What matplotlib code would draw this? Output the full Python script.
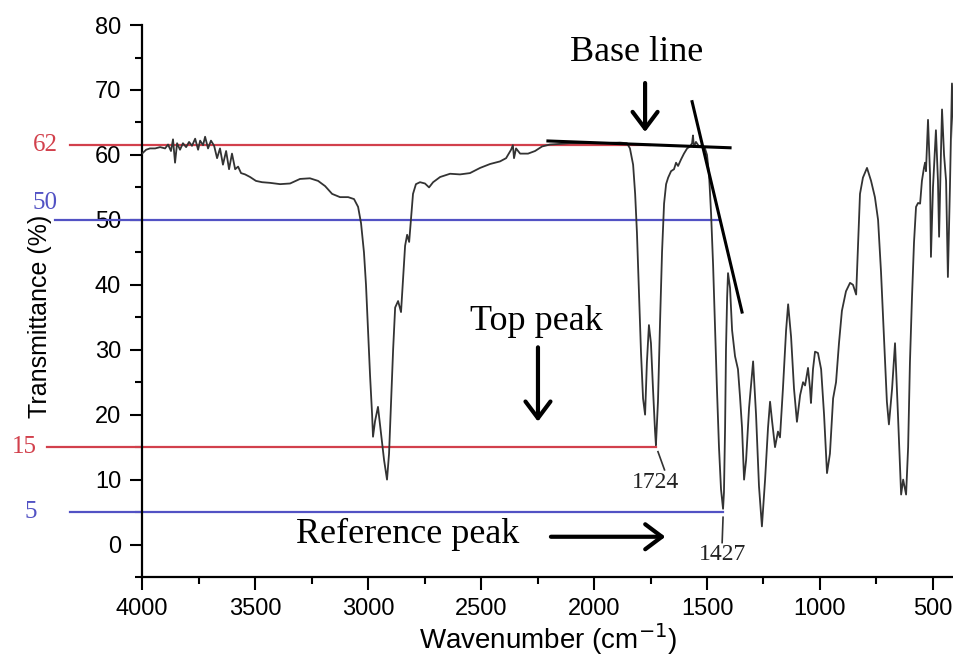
import numpy as np
import matplotlib
matplotlib.use("Agg")
import matplotlib.pyplot as plt
from matplotlib.ticker import MultipleLocator

# spectrum (wavenumber cm-1, transmittance %)
wavenumber = [
    4000, 3982, 3965, 3942, 3920, 3898, 3885, 3872, 3863, 3854, 3845, 3832, 3819, 3805,
    3792, 3779, 3765, 3752, 3743, 3730, 3721, 3708, 3695, 3681, 3668, 3655, 3642, 3628,
    3615, 3602, 3588, 3575, 3562, 3544, 3522, 3496, 3469, 3434, 3389, 3345, 3301, 3257,
    3221, 3190, 3159, 3124, 3088, 3062, 3044, 3031, 3018, 3009, 3000, 2991, 2982, 2978,
    2969, 2956, 2942, 2929, 2916, 2907, 2898, 2889, 2880, 2867, 2854, 2845, 2836, 2827,
    2818, 2810, 2801, 2788, 2770, 2748, 2730, 2712, 2681, 2637, 2593, 2549, 2504, 2460,
    2416, 2389, 2367, 2359, 2354, 2345, 2327, 2292, 2261, 2230, 2195, 2106, 1973, 1885,
    1854, 1841, 1827, 1818, 1810, 1801, 1792, 1783, 1774, 1766, 1757, 1748, 1739, 1730,
    1726, 1717, 1708, 1699, 1690, 1681, 1672, 1659, 1646, 1637, 1628, 1615, 1602, 1588,
    1575, 1566, 1562, 1558, 1549, 1535, 1522, 1509, 1500, 1491, 1482, 1473, 1465, 1456,
    1447, 1438, 1429, 1425, 1420, 1416, 1411, 1407, 1398, 1389, 1376, 1363, 1354, 1345,
    1336, 1327, 1314, 1296, 1283, 1270, 1257, 1243, 1230, 1221, 1212, 1199, 1186, 1177,
    1164, 1150, 1141, 1128, 1115, 1102, 1088, 1075, 1066, 1053, 1044, 1040, 1031, 1022,
    1009, 995, 982, 969, 956, 942, 929, 916, 903, 885, 867, 854, 840, 832,
    823, 810, 792, 774, 757, 743, 730, 717, 704, 695, 681, 668, 655, 641,
    632, 619, 610, 602, 593, 584, 575, 566, 557, 549, 540, 535, 531, 522,
    513, 509, 500, 487, 478, 473, 465, 460, 451, 442, 434, 425, 416, 407]
transmittance = [
    60.2, 60.8, 61.0, 61.0, 61.2, 61.0, 61.6, 60.6, 62.4, 58.8, 61.8, 60.8, 61.8, 61.2,
    62.0, 61.4, 62.5, 60.8, 62.2, 61.5, 62.8, 61.0, 62.2, 61.4, 59.5, 61.0, 58.5, 60.6,
    57.8, 60.2, 57.8, 58.2, 57.2, 57.0, 56.6, 56.0, 55.8, 55.7, 55.5, 55.6, 56.3, 56.4,
    56.0, 55.2, 54.0, 53.5, 53.5, 53.2, 52.0, 49.5, 45.0, 40.0, 33.0, 26.0, 20.0, 16.6,
    19.0, 21.2, 17.0, 13.0, 10.0, 14.0, 22.0, 30.0, 36.5, 37.5, 35.8, 41.0, 46.0, 47.7,
    46.6, 50.0, 54.0, 55.5, 55.8, 55.6, 55.0, 55.8, 56.6, 57.1, 57.0, 57.2, 58.0, 58.6,
    59.0, 59.5, 60.8, 61.5, 59.5, 61.0, 60.2, 60.2, 60.6, 61.3, 61.6, 61.8, 61.8, 61.9,
    61.8, 61.0, 58.5, 54.0, 48.0, 38.5, 29.5, 22.5, 20.0, 28.0, 33.8, 31.0, 24.0, 17.5,
    15.3, 22.0, 34.0, 45.0, 52.5, 55.5, 56.5, 57.5, 57.8, 58.8, 58.3, 59.3, 60.2, 61.0,
    61.3, 61.8, 63.0, 61.2, 62.0, 61.3, 61.5, 61.0, 60.0, 57.0, 51.0, 43.0, 34.0, 24.0,
    15.0, 8.5, 5.5, 8.0, 18.0, 30.0, 38.0, 41.8, 39.5, 33.0, 29.0, 27.0, 22.8, 18.0,
    10.0, 13.0, 21.0, 28.2, 20.0, 9.0, 2.8, 10.0, 18.0, 22.0, 19.0, 15.0, 17.4, 16.5,
    24.0, 33.0, 37.0, 32.0, 24.0, 18.9, 23.0, 25.0, 24.5, 27.2, 24.0, 21.8, 27.0, 29.7,
    29.5, 27.0, 20.0, 11.0, 14.0, 22.5, 25.0, 31.0, 36.0, 39.0, 40.3, 40.0, 38.5, 46.0,
    54.0, 56.5, 58.0, 56.0, 53.5, 50.0, 42.0, 32.0, 22.0, 18.5, 24.0, 31.0, 20.0, 7.7,
    10.0, 7.7, 15.0, 28.0, 38.0, 46.5, 52.0, 52.6, 52.5, 56.0, 58.0, 58.8, 57.5, 65.4,
    57.0, 44.3, 55.0, 63.8, 56.0, 47.4, 60.0, 67.0, 60.0, 56.0, 41.2, 55.0, 71.0, 62.0]

# reference levels: drawn height, label, line start (outside axis), line end
level_y = [61.6, 50, 15, 5]
level_labels = ["62", "50", "15", "5"]
level_start = [4319, 4385, 4420, 4319]
level_end = [1752, 1443, 1724, 1427]
level_colors = ["#d2404c", "#5252c4", "#d2404c", "#5252c4"]
label_x = [4429, 4429, 4522, 4491]
label_y = [61.5, 52.6, 15, 5]

# drawn base line and tangent
base_x = [2204, 1398]
base_y = [62.15, 61.1]
tan_x = [1566, 1345]
tan_y = [68.2, 35.8]

fig = plt.figure(figsize=(9.54, 6.59), dpi=100)
ax = fig.add_axes([0.1489, 0.1244, 0.8511, 0.8376])

sans = "Liberation Sans"
serif = "Liberation Serif"

for y, lab, x0, x1, c, lx, ly in zip(level_y, level_labels, level_start, level_end,
                                     level_colors, label_x, label_y):
    ax.plot([x0, x1], [y, y], color=c, lw=1.6, clip_on=False, zorder=2)
    ax.text(lx, ly, lab, color=c, fontsize=18, family=serif, ha="center", va="center")

ax.plot(wavenumber, transmittance, color="#333333", lw=1.3, zorder=3)

ax.plot(base_x, base_y, color="black", lw=2.2, zorder=4)
ax.plot(tan_x, tan_y, color="black", lw=2.2, zorder=4)

arrow = dict(arrowstyle="->,head_length=0.6,head_width=0.45", lw=3, color="black",
             mutation_scale=20)
ax.annotate("", xy=(1774, 63.1), xytext=(1774, 71.5), arrowprops=arrow)
ax.annotate("", xy=(2248, 18.5), xytext=(2248, 30.8), arrowprops=arrow)
ax.annotate("", xy=(1672, 1.2), xytext=(2203, 1.2), arrowprops=arrow)

ax.text(1810, 75.8, "Base line", fontsize=26, family=serif, ha="center", va="center")
ax.text(2257, 34.3, "Top peak", fontsize=26, family=serif, ha="center", va="center")
ax.text(2823, 1.5, "Reference peak", fontsize=26, family=serif, ha="center", va="center")

ax.plot([1717, 1688], [14.3, 11.5], color="#333333", lw=1.2)
ax.plot([1429, 1433], [4.2, 0.3], color="#333333", lw=1.2)
ax.text(1726, 9.5, "1724", fontsize=17, family=serif, color="#222222", ha="center", va="center")
ax.text(1433, -1.5, "1427", fontsize=17, family=serif, color="#222222", ha="center", va="center")

ax.set_xlim(4000, 407)
ax.set_ylim(-5, 80)
ax.xaxis.set_major_locator(MultipleLocator(500))
ax.xaxis.set_minor_locator(MultipleLocator(250))
ax.yaxis.set_major_locator(MultipleLocator(10))
ax.yaxis.set_minor_locator(MultipleLocator(5))
ax.set_yticks(np.arange(0, 81, 10))

for s in ["top", "right"]:
    ax.spines[s].set_visible(False)
for s in ["left", "bottom"]:
    ax.spines[s].set_linewidth(1.6)

ax.tick_params(which="major", direction="out", length=9, width=1.5, pad=6, labelsize=17)
ax.tick_params(which="minor", direction="out", length=5, width=1.5)
for lab in ax.get_xticklabels() + ax.get_yticklabels():
    lab.set_family(sans)

ax.set_xlabel("Wavenumber (cm$^{-1}$)", fontsize=20, family=sans)
ax.set_ylabel("Transmittance (%)", fontsize=18, family=sans)
ax.xaxis.set_label_coords(0.5, -0.08)
ax.yaxis.set_label_coords(-0.111, 0.473)

fig.savefig("out.png", dpi=100)
